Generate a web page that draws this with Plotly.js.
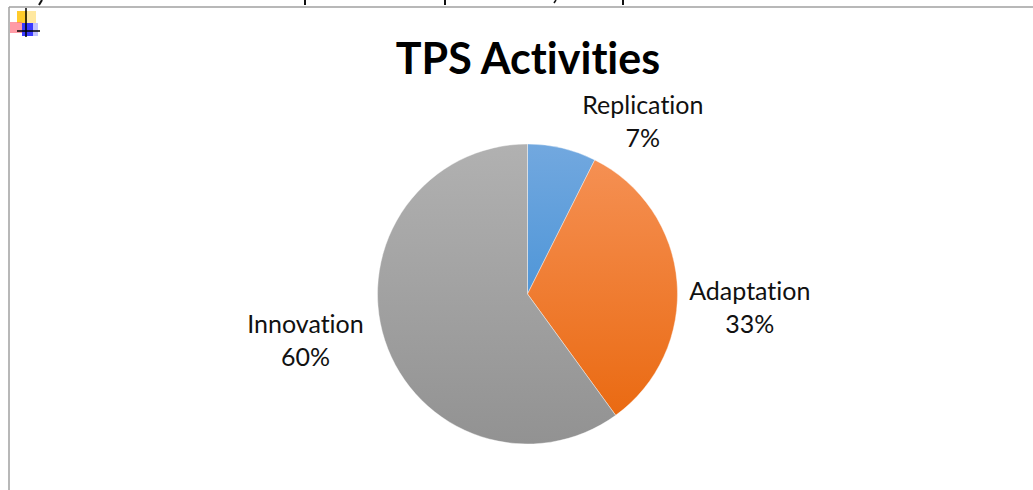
<!DOCTYPE html>
<html>
<head>
<meta charset="utf-8">
<script src="https://cdn.plot.ly/plotly-3.0.1.min.js"></script>
<style>html,body{margin:0;padding:0;background:#fff;overflow:hidden}#c{width:1033px;height:490px}#c text{font-variant-ligatures:none;font-feature-settings:"liga" 0}</style>
</head>
<body>
<div id="c"></div>
<script>
const categories = ['Replication', 'Adaptation', 'Innovation'];
const values = [7.4, 32.6, 60];
const colors = ['#5F9FDB', '#F27F33', '#A1A1A1'];
const gradients = [['#72A8DF', '#4F96D8'], ['#F59053', '#EA6A12'], ['#B1B1B1', '#929292']];
const labelAnchors = [[643, 121], [750, 306], [305, 339]];
const W = 1033, H = 490;
const px = x => x / W, py = y => 1 - y / H;
const total = values.reduce((a, b) => a + b, 0);
const font = 'Lato, "Open Sans", sans-serif';

const box = (x0, y0, x1, y1, fill, opacity) => ({type: 'rect', xref: 'paper', yref: 'paper',
  x0: px(x0), x1: px(x1), y0: py(y0), y1: py(y1), fillcolor: fill, opacity: opacity, line: {width: 0}});
const line = (x0, y0, x1, y1, color, width) => ({type: 'line', xref: 'paper', yref: 'paper',
  x0: px(x0), x1: px(x1), y0: py(y0), y1: py(y1), line: {color: color, width: width}});

const shapes = [
  line(9, 7, 1033, 7, '#A0A0A0', 1.5),
  line(9, 7, 9, 490, '#A0A0A0', 1.5),
  // clipped text descenders along the top edge
  line(42, 0, 39, 5, '#111', 2), line(305, 0, 305, 5, '#111', 2),
  line(445, 0, 445, 5, '#111', 2), line(556, 0, 554, 3, '#111', 1.5),
  line(623, 0, 623, 5, '#111', 2),
  // small icon
  box(17, 11, 27, 23, '#FFC820', 0.95), box(27, 11, 36, 23, '#FFE080', 0.75),
  box(10, 22, 22, 33, '#FF7080', 0.7), box(22, 23, 33, 36, '#2F2FFF', 0.95),
  box(33, 23, 38, 36, '#A8A8FF', 0.7),
  line(26, 8, 26, 37, '#000', 1.5), line(17, 31, 40, 31, '#000', 1.5)
];

const annotations = categories.map((c, i) => ({
  xref: 'paper', yref: 'paper', x: px(labelAnchors[i][0]), y: py(labelAnchors[i][1]),
  xanchor: 'center', yanchor: 'middle', showarrow: false, align: 'center',
  text: c + '<br>' + Math.round(values[i] / total * 100) + '%',
  font: {family: font, size: 25, color: '#111'}
}));

Plotly.newPlot('c', [{
  type: 'pie', labels: categories, values: values, sort: false, direction: 'clockwise', rotation: 0,
  textinfo: 'none', showlegend: false, hoverinfo: 'label+percent',
  marker: {colors: colors, line: {color: '#fff', width: 0.4}},
  domain: {x: [px(377.5), px(677.5)], y: [py(444), py(144)]}
}], {
  width: W, height: H, margin: {l: 0, r: 0, t: 0, b: 0},
  paper_bgcolor: '#fff', showlegend: false,
  title: {text: '<b>TPS Activities</b>', x: px(528), xanchor: 'center', xref: 'paper',
    y: py(59), yanchor: 'middle', yref: 'paper', font: {family: font, size: 43, color: '#000'}},
  shapes: shapes, annotations: annotations
}, {displayModeBar: false, staticPlot: true}).then(gd => {
  // vertical shading on each slice, as in the reference
  const svg = gd.querySelector('svg.main-svg');
  const NS = 'http://www.w3.org/2000/svg';
  const defs = svg.querySelector('defs') || svg.insertBefore(document.createElementNS(NS, 'defs'), svg.firstChild);
  gd.querySelectorAll('g.slice').forEach((s, i) => {
    const g = document.createElementNS(NS, 'linearGradient');
    g.setAttribute('id', 'sliceShade' + i);
    g.setAttribute('x1', 0); g.setAttribute('y1', 0); g.setAttribute('x2', 0); g.setAttribute('y2', 1);
    gradients[i].forEach((col, k) => {
      const st = document.createElementNS(NS, 'stop');
      st.setAttribute('offset', k); st.setAttribute('stop-color', col); g.appendChild(st);
    });
    defs.appendChild(g);
    s.querySelector('path.surface').style.fill = 'url(#sliceShade' + i + ')';
  });
});
</script>
</body>
</html>
